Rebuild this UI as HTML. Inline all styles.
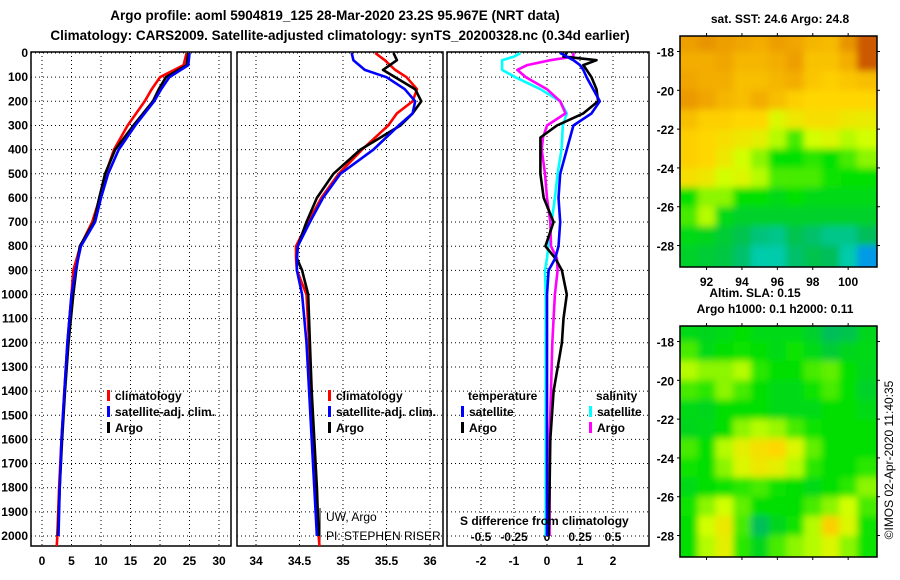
<!DOCTYPE html>
<html><head><meta charset="utf-8"><style>
body{margin:0;background:#fff;}
svg{display:block;font-family:"Liberation Sans",sans-serif;}
.t{font-weight:bold;font-size:12px;}
.h{font-weight:bold;font-size:13.5px;}
</style></head><body>
<svg id="chart" width="900" height="580" viewBox="0 0 900 580">
<defs>
<filter id="blur" x="0" y="0" width="1" height="1"><feGaussianBlur stdDeviation="3.5"/></filter>
<clipPath id="clipA"><rect x="680" y="36" width="197" height="231"/></clipPath>
<clipPath id="clipB"><rect x="680" y="326" width="197" height="231"/></clipPath>
</defs>
<text class="h" x="335" y="20" text-anchor="middle">Argo profile: aoml 5904819_125 28-Mar-2020 23.2S 95.967E (NRT data)</text>
<text class="h" x="340" y="40" text-anchor="middle">Climatology: CARS2009. Satellite-adjusted climatology: synTS_20200328.nc (0.34d earlier)</text>
<text class="t" x="780" y="23" text-anchor="middle">sat. SST: 24.6 Argo: 24.8</text>
<text class="t" x="755" y="297" text-anchor="middle">Altim. SLA: 0.15</text>
<text class="t" x="775" y="313" text-anchor="middle">Argo h1000: 0.1 h2000: 0.11</text>
<text x="893" y="460" font-size="12" text-anchor="middle" transform="rotate(-90 893 460)">©IMOS 02-Apr-2020 11:40:35</text>
<g id="g"></g>
</svg>
<script>
// depth levels
const depthT=[0,50,100,150,200,300,400,500,600,700,800,900,1000,1200,1400,1600,1800,2000];
const tempArgo=[24.8,24.5,21.0,19.8,18.8,15.5,12.4,10.7,9.7,8.8,6.4,5.8,5.3,4.5,3.9,3.4,3.0,2.7];
const tempClim=[24.5,24.0,20.0,18.6,17.4,14.5,12.2,10.8,9.8,8.5,6.5,5.3,5.0,4.3,3.8,3.3,2.9,2.6];
const tempSat=[25.0,24.8,21.6,20.2,19.0,15.8,13.0,11.2,10.0,9.0,6.6,5.7,5.0,4.3,3.8,3.3,3.0,2.8];
const depthS=[0,30,70,100,150,200,250,300,400,500,600,700,800,850,900,1000,1200,1400,1600,1800,2000];
const salArgo=[35.58,35.62,35.46,35.6,35.83,35.9,35.8,35.66,35.2,34.89,34.7,34.58,34.48,34.47,34.53,34.6,34.62,34.64,34.67,34.7,34.72];
const salClim=[35.37,35.48,35.6,35.73,35.85,35.8,35.62,35.52,35.22,34.95,34.75,34.6,34.46,34.46,34.47,34.58,34.61,34.63,34.66,34.69,34.72];
const salSat=[35.1,35.12,35.25,35.5,35.71,35.83,35.8,35.64,35.35,34.97,34.77,34.62,34.48,34.47,34.47,34.53,34.58,34.61,34.64,34.67,34.7];
const depthD=[0,15,30,50,70,100,150,200,250,300,350,400,500,600,700,800,850,900,1000,1100,1200,1400,1600,1800,2000];
const dTempArgo=[0.6,0.5,1.5,1.1,1.2,1.35,1.5,1.55,1.1,0.3,-0.2,-0.2,-0.2,-0.1,0.2,-0.05,0.25,0.45,0.6,0.5,0.45,0.2,0.1,0.08,0.05];
const dTempSat=[0.4,0.6,0.8,1.0,1.1,1.2,1.4,1.6,1.35,0.8,0.7,0.6,0.4,0.35,0.4,0.35,0.25,0.05,0,0,0,0,0,0,0];
const dSalArgo=[0.2,0.2,0.025,-0.15,-0.225,-0.16,0,0.1,0.14,0,-0.03,-0.04,-0.015,0,0.025,0.03,0.075,0.08,0.06,0.05,0.04,0.03,0.02,0.02,0.02];
const dSalSat=[-0.2,-0.25,-0.34,-0.34,-0.34,-0.24,-0.05,0.1,0.15,0.12,0.115,0.11,0.08,0.06,0.035,0.01,0,-0.015,-0.01,-0.01,-0.01,-0.01,-0.01,-0.01,-0.01];
const tempTicks=[0,5,10,15,20,25,30];
const salTicks=[34,34.5,35,35.5,36];
const diffTicks=[-2,-1,0,1,2];
const sdiffTicks=[-0.5,-0.25,0,0.25,0.5];
const depthTicks=[0,100,200,300,400,500,600,700,800,900,1000,1100,1200,1300,1400,1500,1600,1700,1800,1900,2000];
const mapLons=[92,94,96,98,100];
const mapLats=[-18,-20,-22,-24,-26,-28];
// gridded map values (0..1 colour index), rows lat -17.5..-28.5, cols lon 91..101
const sstGrid=[
[.83,.85,.83,.82,.8,.83,.82,.78,.77,.85,.95],
[.8,.8,.82,.78,.78,.8,.83,.75,.75,.8,.95],
[.82,.8,.8,.76,.76,.78,.8,.74,.72,.74,.76],
[.84,.82,.78,.76,.8,.76,.72,.7,.7,.7,.7],
[.76,.72,.72,.7,.7,.62,.66,.68,.68,.66,.65],
[.72,.7,.68,.66,.64,.58,.5,.6,.62,.58,.6],
[.72,.7,.66,.6,.55,.45,.45,.48,.45,.5,.55],
[.68,.66,.6,.62,.58,.5,.5,.5,.46,.45,.45],
[.45,.55,.55,.45,.45,.42,.45,.42,.42,.42,.42],
[.5,.58,.42,.38,.38,.38,.38,.38,.38,.38,.38],
[.42,.4,.36,.32,.26,.24,.32,.28,.24,.24,.3],
[.38,.36,.34,.28,.2,.2,.28,.32,.3,.2,.08]];
const slaGrid=[
[.42,.4,.42,.44,.42,.42,.42,.38,.3,.32,.4],
[.5,.42,.44,.46,.44,.42,.46,.42,.36,.4,.42],
[.58,.55,.55,.58,.48,.44,.44,.5,.52,.45,.4],
[.5,.48,.55,.5,.44,.42,.42,.46,.5,.45,.38],
[.42,.4,.44,.44,.44,.42,.42,.42,.44,.44,.42],
[.4,.42,.44,.55,.58,.56,.5,.46,.44,.44,.44],
[.5,.44,.58,.64,.68,.7,.62,.52,.44,.44,.44],
[.46,.44,.55,.62,.66,.64,.58,.48,.44,.44,.48],
[.42,.44,.46,.48,.5,.46,.44,.42,.44,.48,.55],
[.46,.55,.6,.52,.44,.44,.44,.5,.55,.6,.5],
[.44,.6,.66,.5,.3,.4,.46,.58,.72,.62,.46],
[.44,.58,.64,.48,.4,.5,.55,.58,.62,.55,.46]];

const NS="http://www.w3.org/2000/svg";
const G=document.getElementById('g');
function el(tag,attrs,parent){const e=document.createElementNS(NS,tag);for(const k in attrs)e.setAttribute(k,attrs[k]);(parent||G).appendChild(e);return e;}
function txt(x,y,s,cls,anchor){const t=el('text',{x:x,y:y,'text-anchor':anchor||'middle'});if(cls)t.setAttribute('class',cls);t.textContent=s;return t;}

const TOP=52,BOT=546;
const yD=d=>53+d*0.2415;
const panels=[
 {x0:31,x1:231,f:v=>42+v*5.9,ticks:tempTicks,name:'temperature'},
 {x0:237,x1:443,f:v=>256+(v-34)*87,ticks:salTicks,name:'salinity'},
 {x0:447,x1:649,f:v=>547+v*33,ticks:diffTicks,name:'difference'}];
panels.forEach((p,i)=>{
  const r=el('rect',{x:p.x0,y:TOP,width:p.x1-p.x0,height:BOT-TOP,fill:'none',stroke:'#000','stroke-width':1.5});
  
  
  depthTicks.forEach(d=>{el('line',{x1:p.x0,x2:p.x1,y1:yD(d),y2:yD(d),stroke:'#000','stroke-dasharray':'1,3','stroke-width':1});});
  p.ticks.forEach(v=>{const x=p.f(v);el('line',{x1:x,x2:x,y1:TOP,y2:BOT,stroke:'#000','stroke-dasharray':'1,3','stroke-width':1});
    const t=txt(x,565,String(v),'t');
    
    });
});
depthTicks.forEach(d=>{const t=txt(28,yD(d)+4,String(d),'t','end');
  
  });
sdiffTicks.forEach(v=>{const t=txt(547+v*4*33,541,String(v),'t');
  
  });

function line(depths,vals,fx,color,name){
  const pts=depths.map((d,i)=>fx(vals[i]).toFixed(1)+','+yD(d).toFixed(1)).join(' ');
  const l=el('polyline',{points:pts,fill:'none',stroke:color,'stroke-width':2.6,'stroke-linejoin':'round'});
  
  
}
const P=panels;
line(depthT,tempClim,P[0].f,'#f00','temp-climatology-line');
line(depthT,tempArgo,P[0].f,'#000','temp-argo-line');
line(depthT,tempSat,P[0].f,'#00f','temp-satellite-line');
line(depthS,salClim,P[1].f,'#f00','sal-climatology-line');
line(depthS,salArgo,P[1].f,'#000','sal-argo-line');
line(depthS,salSat,P[1].f,'#00f','sal-satellite-line');
const fs=v=>547+v*4*33;
line(depthD,dSalSat,fs,'#0ff','sdiff-satellite-line');
line(depthD,dSalArgo,fs,'#f0f','sdiff-argo-line');
line(depthD,dTempArgo,P[2].f,'#000','tdiff-argo-line');
line(depthD,dTempSat,P[2].f,'#00f','tdiff-satellite-line');

function legend(x,y,color,label,name){
  const m=el('rect',{x:x,y:y-10,width:3,height:11,fill:color});
  
  
  const t=txt(x+8,y,label,'t','start');
  
  
}
legend(107,400,'#f00','climatology','legend-climatology');
legend(107,416,'#00f','satellite-adj. clim.','legend-satellite-adj');
legend(107,432,'#000','Argo','legend-argo');
legend(328,400,'#f00','climatology','legend2-climatology');
legend(328,416,'#00f','satellite-adj. clim.','legend2-satellite-adj');
legend(328,432,'#000','Argo','legend2-argo');
legend(461,416,'#00f','satellite','legend-tdiff-satellite');
legend(461,432,'#000','Argo','legend-tdiff-argo');
legend(589,416,'#0ff','satellite','legend-sdiff-satellite');
legend(589,432,'#f0f','Argo','legend-sdiff-argo');
let t;
t=txt(468,400,'temperature','t','start');
t=txt(596,400,'salinity','t','start');
t=txt(460,525,'S difference from climatology','t','start');
t=txt(326,521,'UW, Argo',null,'start');t.setAttribute('font-size','12');
t=txt(326,540,'PI: STEPHEN RISER',null,'start');t.setAttribute('font-size','12');
el('line',{x1:320,x2:320,y1:508,y2:544,stroke:'#000','stroke-width':1});
// deep tails of climatology below 2000 m
el('line',{x1:P[0].f(2.6),x2:P[0].f(2.5),y1:yD(2000),y2:BOT,stroke:'#f00','stroke-width':2.6});
el('line',{x1:P[1].f(34.72),x2:P[1].f(34.73),y1:yD(2000),y2:BOT,stroke:'#f00','stroke-width':2.6});

// colormap
const cstops=[[0,[0,90,255]],[0.15,[0,210,210]],[0.3,[0,190,90]],[0.45,[0,225,0]],[0.6,[210,255,0]],[0.7,[255,215,0]],[0.82,[240,165,0]],[1,[190,60,0]]];
function cmap(v){for(let i=1;i<cstops.length;i++){if(v<=cstops[i][0]){const a=cstops[i-1],b=cstops[i];const f=(v-a[0])/(b[0]-a[0]);return 'rgb('+a[1].map((c,k)=>Math.round(c+(b[1][k]-c)*f)).join(',')+')';}}return 'rgb(190,60,0)';}
function map(grid,yTop,clip,name,lonLabels){
  const lonX=l=>680+(l-90.5)*17.7;
  const latY=la=>yTop+(-17.2-la)*19.4;
  const g=el('g',{'clip-path':'url(#'+clip+')'});
  
  
  const inner=el('g',{filter:'url(#blur)'},g);
  el('rect',{x:660,y:yTop-20,width:240,height:270,fill:cmap(grid[0][0])},inner);
  grid.forEach((row,r)=>row.forEach((v,c)=>{
    const lon=91+c,lat=-17.5-r;
    const x=lonX(lon-0.5),y=latY(lat+0.5);
    const cell=el('rect',{x:(c===0?x-30:x),y:(r===0?y-30:y),width:17.8+(c===0||c===10?30:0),height:19.5+(r===0||r===11?30:0),fill:cmap(v)},inner);
    
    
  }));
  el('rect',{x:680,y:yTop,width:197,height:231,fill:'none',stroke:'#000','stroke-width':1.5});
  mapLats.forEach(la=>{const y=latY(la);el('line',{x1:677,x2:680,y1:y,y2:y,stroke:'#000'});el('line',{x1:877,x2:880,y1:y,y2:y,stroke:'#000'});
    const tl=txt(674,y+5,String(la),'t','end');});
  mapLons.forEach(lo=>{const x=lonX(lo);el('line',{x1:x,x2:x,y1:yTop-3,y2:yTop,stroke:'#000'});el('line',{x1:x,x2:x,y1:yTop+231,y2:yTop+234,stroke:'#000'});
    if(lonLabels){const tl=txt(x,yTop+250,String(lo),'t');}});
}
map(sstGrid,36,'clipA','sst-map',true);
map(slaGrid,326,'clipB','sla-map',false);
</script>
</body></html>
